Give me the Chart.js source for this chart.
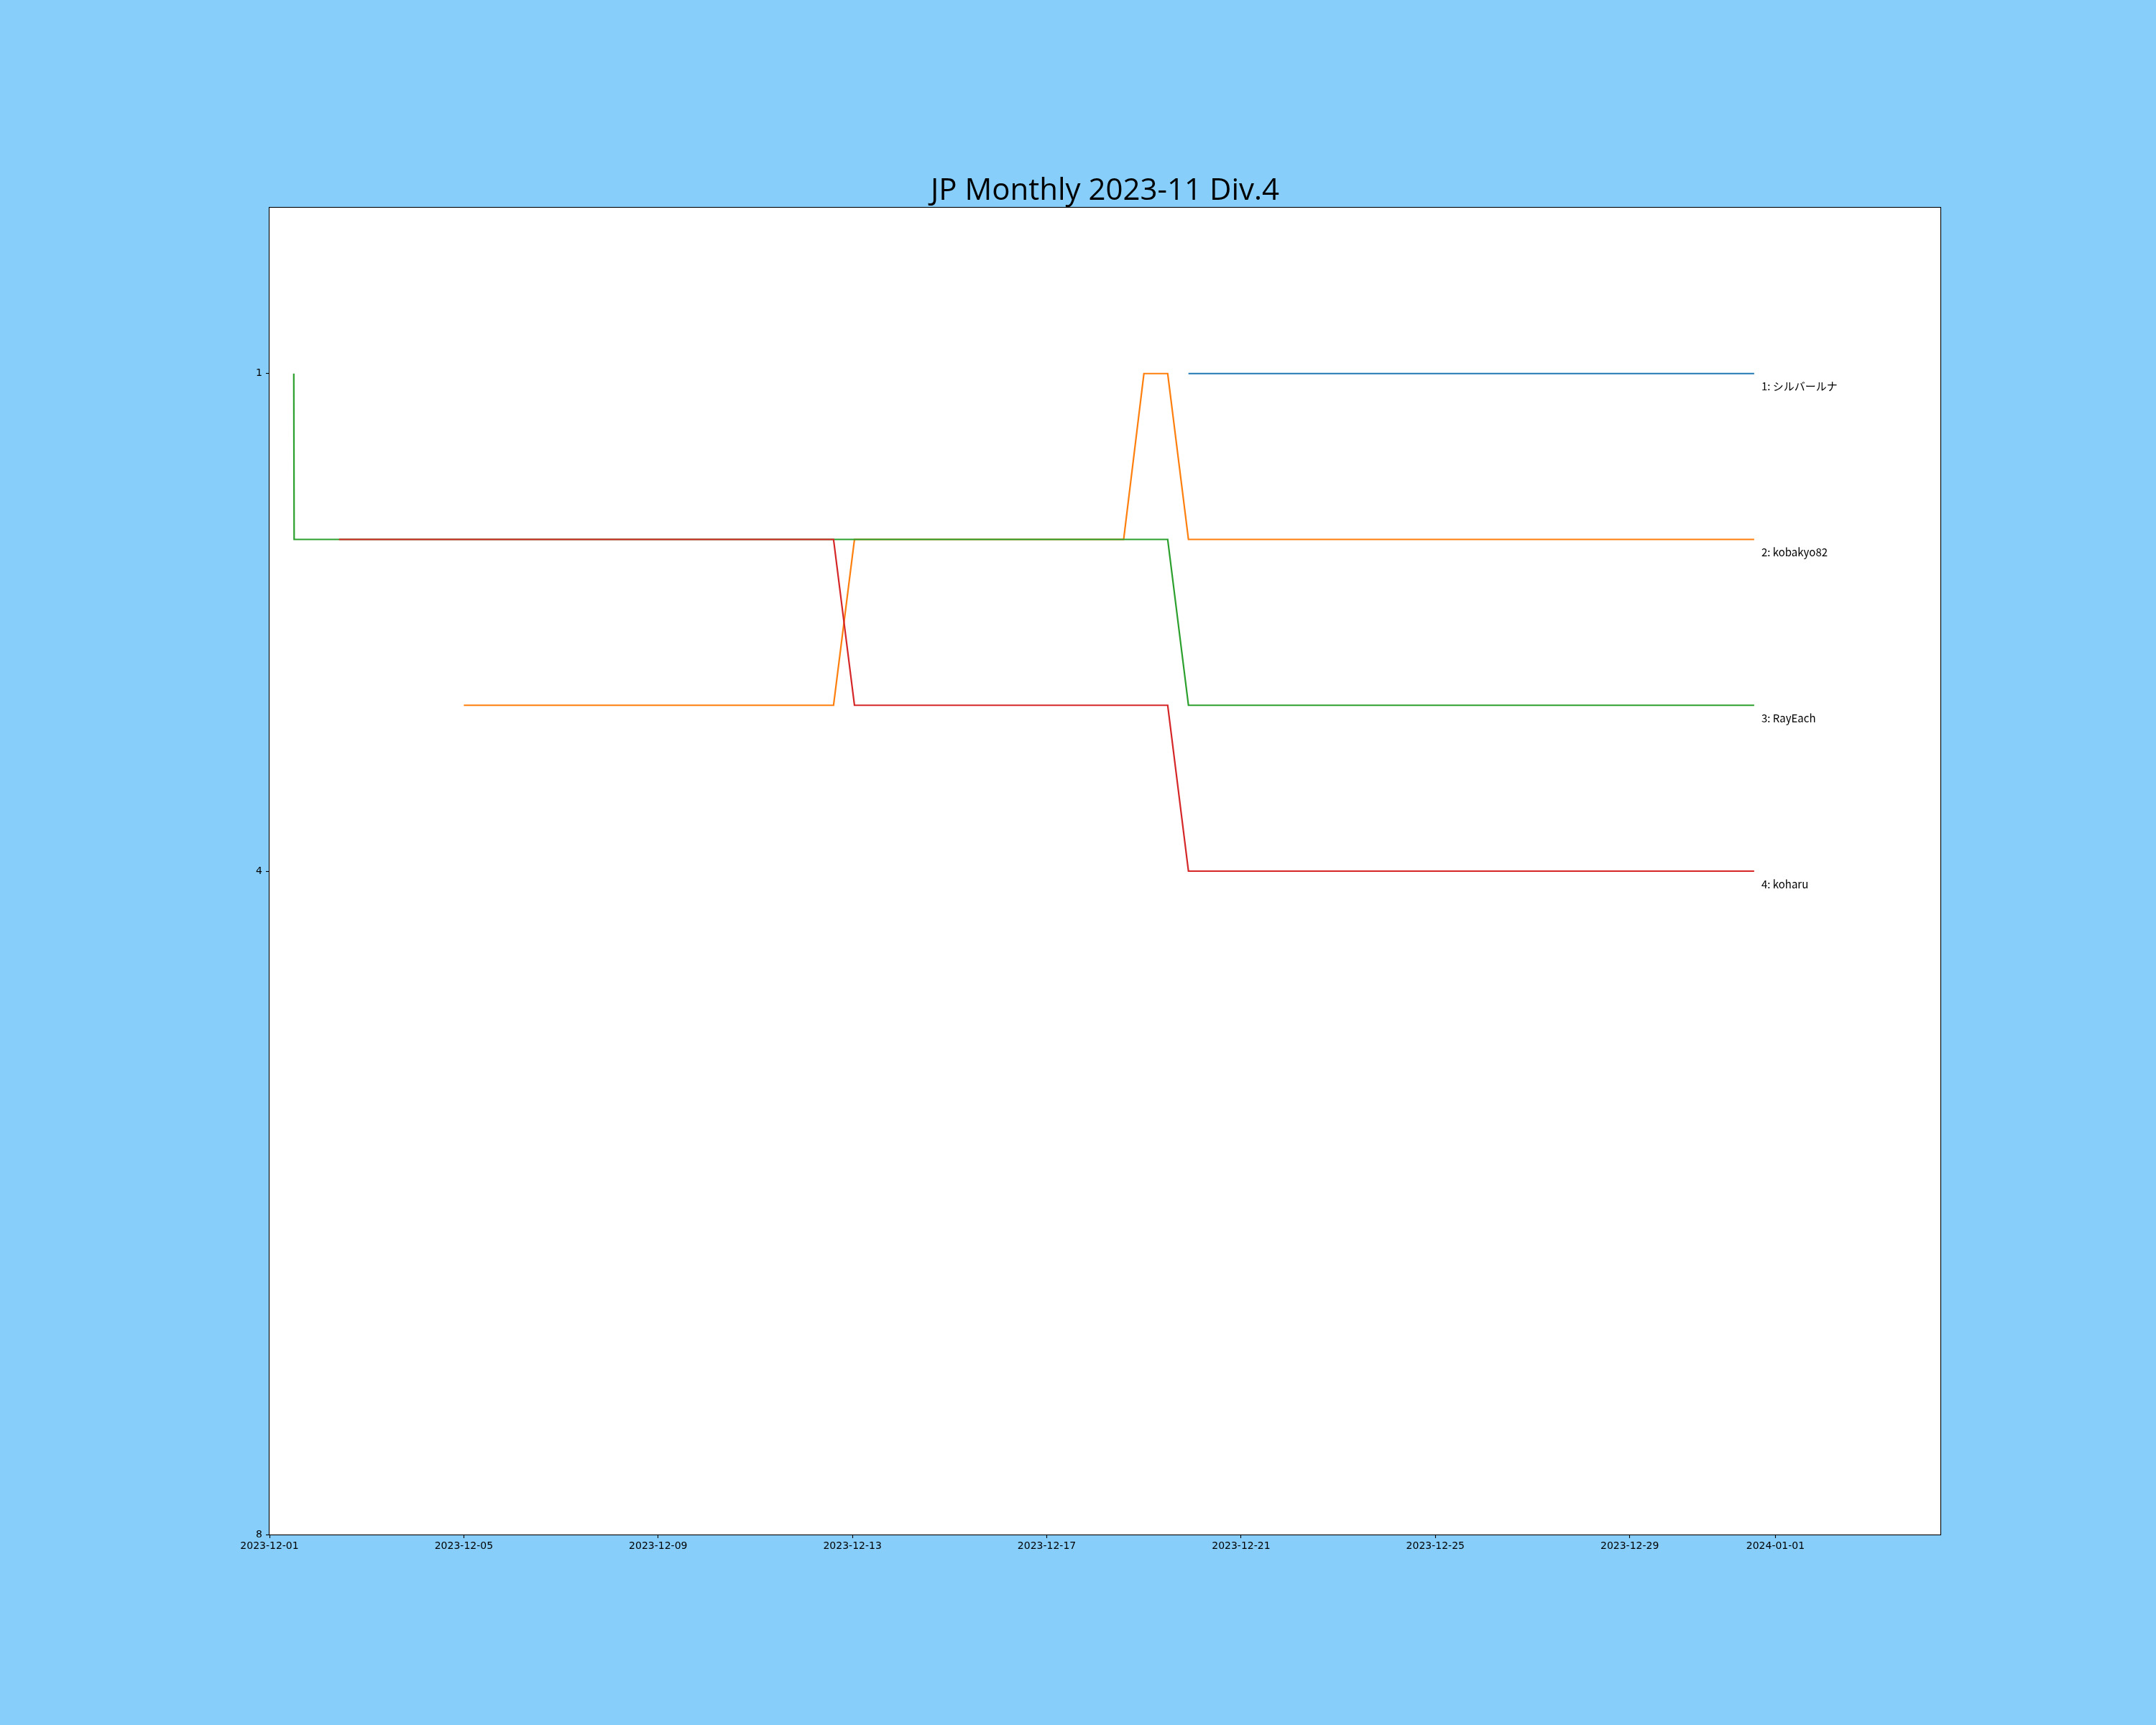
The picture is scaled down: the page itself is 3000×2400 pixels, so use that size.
<!DOCTYPE html>
<html>
<head>
<meta charset="utf-8">
<script src="https://cdn.jsdelivr.net/npm/chart.js@4.4.1/dist/chart.umd.min.js"></script>
<style>
    html, body { margin: 0; padding: 0; background: #87CEFA; }
    canvas { display: block; }
</style>
</head>
<body>
<canvas id="rankChart" width="3000" height="2400" style="width:3000px;height:2400px"></canvas>
<script>
// --- Data (ranks) ---
const chartTitle = 'JP Monthly 2023-11 Div.4';
const startDate = '2023-12-01';
const sampleTimes = [
    '2023-12-01T12:00', '2023-12-01T12:10', '2023-12-02T10:20', '2023-12-05T00:00',
    '2023-12-12T14:40', '2023-12-13T01:00', '2023-12-18T14:00', '2023-12-19T00:00',
    '2023-12-19T11:45', '2023-12-19T22:00', '2023-12-31T13:30'
];
const playerNames = ['シルバールナ', 'kobakyo82', 'RayEach', 'koharu'];
const rankSilverLuna = [null, null, null, null, null, null, null, null, null, 1, 1];
const rankKobakyo82 = [null, null, null, 3, 3, 2, 2, 1, 1, 2, 2];
const rankRayEach = [1, 2, 2, 2, 2, 2, 2, 2, 2, 3, 3];
const rankKoharu = [null, null, 2, 2, 2, 3, 3, 3, 3, 4, 4];
const dateTicks = ['2023-12-01', '2023-12-05', '2023-12-09', '2023-12-13', '2023-12-17',
    '2023-12-21', '2023-12-25', '2023-12-29', '2024-01-01'];
const rankTicks = [1, 4, 8];
const xEndDate = '2024-01-04T09:30';

const seriesColors = ['#1f77b4', '#ff7f0e', '#2ca02c', '#d62728'];
const tickFont = { family: 'DejaVu Sans', size: 14 };
const titleFont = '"Open Sans", "Noto Sans CJK JP", sans-serif';
const jpFont = '"Noto Sans CJK JP", "DejaVu Sans", sans-serif';

// --- Helpers ---
const DAY = 24 * 3600 * 1000;
function toDay(str) {
    return (Date.parse(str + (str.length > 10 ? ':00Z' : 'T00:00:00Z')) - Date.parse(startDate + 'T00:00:00Z')) / DAY;
}
function toPoints(ranks) {
    const pts = [];
    ranks.forEach((r, i) => {
        if (r !== null) pts.push({ x: toDay(sampleTimes[i]), y: r });
    });
    return pts;
}

const allRanks = [rankSilverLuna, rankKobakyo82, rankRayEach, rankKoharu];
const datasets = allRanks.map((ranks, i) => ({
    label: (i + 1) + ': ' + playerNames[i],
    data: toPoints(ranks),
    borderColor: seriesColors[i],
    borderWidth: 2.2,
    pointRadius: 0,
    fill: false,
    tension: 0,
    order: allRanks.length - 1 - i
}));

// --- Plugins ---
const backgroundPlugin = {
    id: 'background',
    beforeDraw(chart) {
        const { ctx, chartArea: a } = chart;
        ctx.save();
        ctx.fillStyle = '#87CEFA';
        ctx.fillRect(0, 0, chart.width, chart.height);
        ctx.fillStyle = '#ffffff';
        ctx.fillRect(a.left, a.top, a.right - a.left, a.bottom - a.top);
        ctx.restore();
    },
    afterDraw(chart) {
        const { ctx, chartArea: a } = chart;
        ctx.save();
        ctx.strokeStyle = '#000000';
        ctx.lineWidth = 1.1;
        ctx.strokeRect(Math.round(a.left) - 0.5, Math.round(a.top) - 0.5,
            Math.round(a.right - a.left) + 1, Math.round(a.bottom - a.top) + 1);
        ctx.restore();
    }
};

const endLabelPlugin = {
    id: 'endLabels',
    afterDatasetsDraw(chart) {
        const ctx = chart.ctx;
        ctx.save();
        ctx.font = '15px ' + jpFont;
        ctx.fillStyle = '#000000';
        ctx.textAlign = 'left';
        ctx.textBaseline = 'middle';
        chart.data.datasets.forEach((ds, i) => {
            const meta = chart.getDatasetMeta(i);
            const last = meta.data[meta.data.length - 1];
            ctx.fillText(ds.label, last.x + 10, last.y + 18);
        });
        ctx.restore();
    }
};

// --- Chart ---
const ctx = document.getElementById('rankChart').getContext('2d');
new Chart(ctx, {
    type: 'line',
    data: { datasets: datasets },
    plugins: [backgroundPlugin, endLabelPlugin],
    options: {
        responsive: false,
        devicePixelRatio: 1,
        animation: false,
        layout: { padding: { left: 0, right: 300, top: 0, bottom: 0 } },
        plugins: {
            legend: { display: false },
            tooltip: { enabled: false },
            title: {
                display: true,
                text: chartTitle,
                fullSize: false,
                color: '#000000',
                font: { family: titleFont, size: 42, weight: 'normal', lineHeight: 1.0 },
                padding: { top: 245, bottom: 2 }
            }
        },
        scales: {
            x: {
                type: 'linear',
                min: 0,
                max: toDay(xEndDate),
                afterBuildTicks(scale) {
                    scale.ticks = dateTicks.map(d => ({ value: toDay(d) }));
                },
                afterFit(scale) { scale.height = 265; },
                ticks: {
                    color: '#000000',
                    font: tickFont,
                    padding: 3,
                    maxRotation: 0,
                    autoSkip: false,
                    callback(value) {
                        const d = new Date(Date.parse(startDate + 'T00:00:00Z') + value * DAY);
                        return d.toISOString().slice(0, 10);
                    }
                },
                grid: {
                    drawOnChartArea: false,
                    drawTicks: true,
                    tickLength: 5,
                    tickColor: '#000000',
                    tickWidth: 1.1
                },
                border: { display: false }
            },
            y: {
                type: 'linear',
                reverse: true,
                min: 0,
                max: 8,
                afterBuildTicks(scale) {
                    scale.ticks = rankTicks.map(v => ({ value: v }));
                },
                afterFit(scale) { scale.width = 375; },
                ticks: {
                    color: '#000000',
                    font: tickFont,
                    padding: 5
                },
                grid: {
                    drawOnChartArea: false,
                    drawTicks: true,
                    tickLength: 5,
                    tickColor: '#000000',
                    tickWidth: 1.1
                },
                border: { display: false }
            }
        }
    }
});
</script>
</body>
</html>
